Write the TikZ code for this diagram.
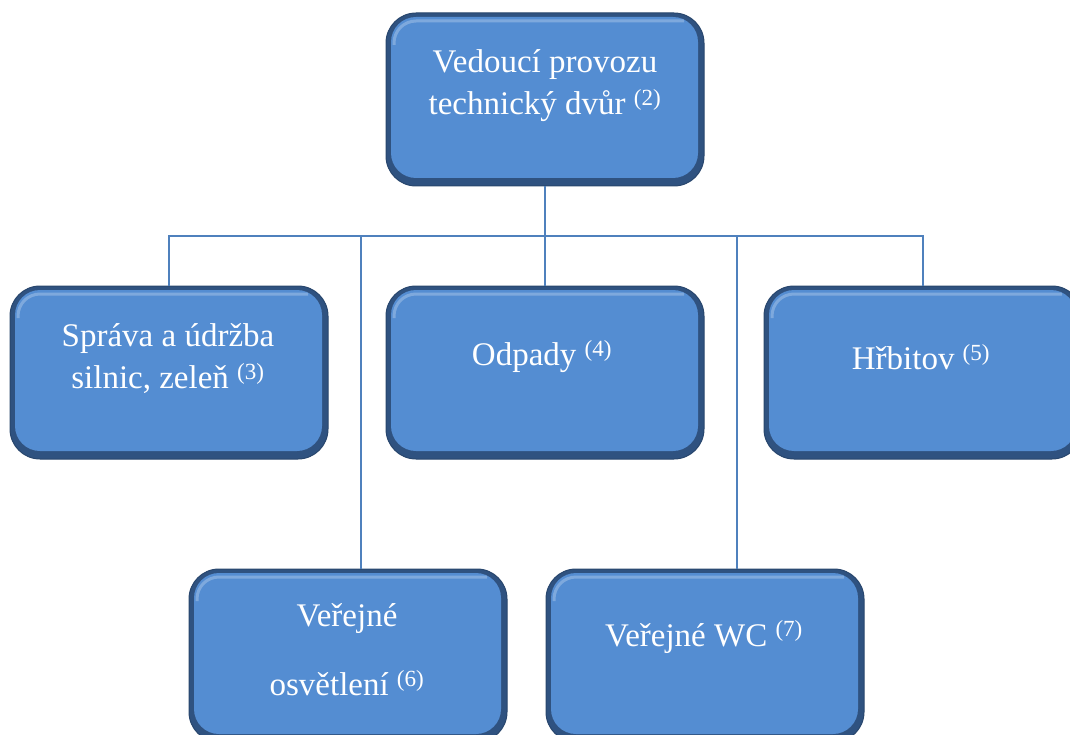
\documentclass[tikz,border=0pt]{standalone}
\usepackage{fontspec}
\setmainfont{Liberation Serif}
\usepackage{xcolor}
\definecolor{boxblue}{RGB}{84,141,210}
\definecolor{boxrim}{RGB}{47,82,128}
\definecolor{linkblue}{RGB}{79,129,189}
\usetikzlibrary{positioning}
\tikzset{
  orgbox/.style={fill=boxrim, draw=boxrim!85!black, line width=1pt,
    rounded corners=30pt, minimum width=318pt, minimum height=173pt, inner sep=0pt,
    path picture={
      \fill[boxblue, rounded corners=25pt]
        ([shift={(5pt,-4pt)}]path picture bounding box.north west) rectangle
        ([shift={(-6pt,8pt)}]path picture bounding box.south east);
      \draw[white, opacity=.25, line width=3pt, rounded corners=22pt]
        ([shift={(8pt,-32pt)}]path picture bounding box.north west) --
        ([shift={(8pt,-8pt)}]path picture bounding box.north west) --
        ([shift={(-20pt,-8pt)}]path picture bounding box.north east);
    }},
  boxlabel/.style={text=white, align=center, font=\fontsize{33}{42}\selectfont},
  conn/.style={draw=linkblue, line width=1.5pt}
}

\begin{document}
\begin{tikzpicture}[x=1pt,y=-1pt]
    \useasboundingbox (0,0) rectangle (1070,735);

    % head of the department
    \node[orgbox] (top) at (545,99.5) {};
    \node[boxlabel] (topt) at (545,86) {Vedoucí provozu\\technický dvůr \textsuperscript{(2)}};

    % first row
    \node[orgbox] (spr) at (169,372.5) {};
    \node[boxlabel] (sprt) at (168,359) {Správa a údržba\\silnic, zeleň \textsuperscript{(3)}};
    \node[orgbox] (odp) at (545,372.5) {};
    \node[boxlabel] (odpt) at (542,357) {Odpady \textsuperscript{(4)}};
    \node[orgbox] (hrb) at (923,372.5) {};
    \node[boxlabel] (hrbt) at (921,357) {Hřbitov \textsuperscript{(5)}};

    % second row
    \node[orgbox] (ver) at (348,655.5) {};
    \node[boxlabel,font=\fontsize{33}{69}\selectfont] (vert) at (347,650) {Veřejné\\osvětlení \textsuperscript{(6)}};
    \node[orgbox] (wc) at (705,655.5) {};
    \node[boxlabel] (wct) at (704,637) {Veřejné WC \textsuperscript{(7)}};

    % connectors
    \coordinate (bus) at (545,236);
    \coordinate (tapl) at (361,236);
    \coordinate (tapr) at (737,236);
    \draw[conn] (top) -- (odp);
    \draw[conn] (spr.north) |- (bus) -| (hrb.north);
    \draw[conn] (tapl) -- (tapl |- ver.north);
    \draw[conn] (tapr) -- (tapr |- wc.north);
\end{tikzpicture}
\end{document}
